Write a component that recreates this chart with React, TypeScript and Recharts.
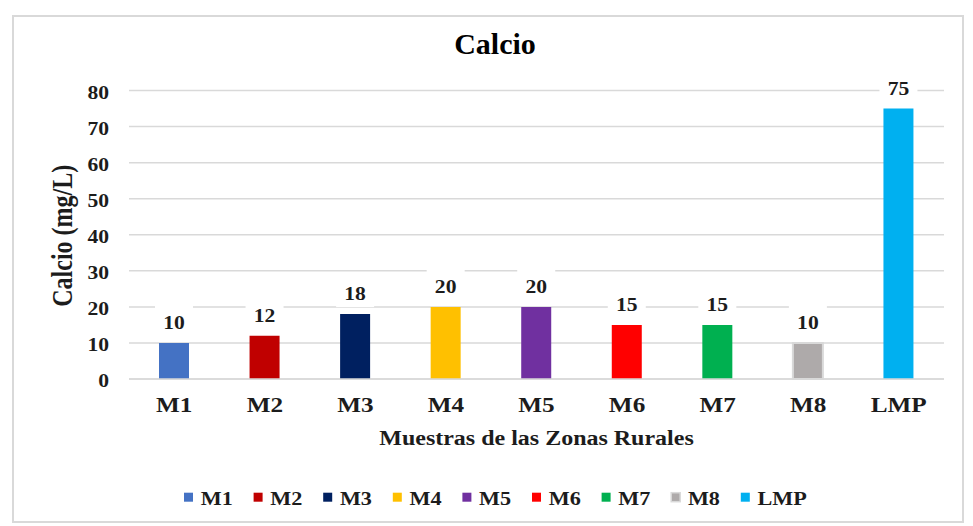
import React from 'react';
import { BarChart, Bar, XAxis, YAxis, CartesianGrid, Cell, LabelList } from 'recharts';

const categories = ['M1', 'M2', 'M3', 'M4', 'M5', 'M6', 'M7', 'M8', 'LMP'];
const calcioValues = [10, 12, 18, 20, 20, 15, 15, 10, 75];
const yTicks = [0, 10, 20, 30, 40, 50, 60, 70, 80];
const chartTitle = 'Calcio';
const yAxisTitle = 'Calcio (mg/L)';
const xAxisTitle = 'Muestras de las Zonas Rurales';

const barColors = ['#4472C4', '#C00000', '#002060', '#FFC000', '#7030A0', '#FF0000', '#00B050', '#AEAAAA', '#00B0F0'];
const barStrokes = ['none', 'none', 'none', 'none', 'none', 'none', 'none', '#D9D9D9', 'none'];

const data = categories.map((name, i) => ({ name, value: calcioValues[i] }));

const FONT = "'Liberation Serif', 'Times New Roman', serif";
const TEXT = '#1c1c1c';
const GRID = '#d9d9d9';
const SX = 1.2;

const YTick = (props: any) => {
  const { x, y, payload } = props;
  return (
    <g transform={`translate(${x},${y + 8}) scale(${SX},1)`}>
      <text x={0} y={0} textAnchor="end" fontFamily={FONT} fontWeight="bold" fontSize={18} fill={TEXT}>
        {payload.value}
      </text>
    </g>
  );
};

const XTick = (props: any) => {
  const { x, y, payload } = props;
  return (
    <g transform={`translate(${x},${y + 32.5}) scale(${SX},1)`}>
      <text x={0} y={0} textAnchor="middle" fontFamily={FONT} fontWeight="bold" fontSize={21} fill={TEXT}>
        {payload.value}
      </text>
    </g>
  );
};

const YTitle = (props: any) => {
  const vb = props.viewBox || { x: 0, y: 0, width: 0, height: 0 };
  const cy = vb.y + vb.height / 2 + 1;
  return (
    <g transform={`translate(64,${cy}) scale(${SX},1) rotate(-90)`}>
      <text x={0} y={0} textAnchor="middle" fontFamily={FONT} fontWeight="bold" fontSize={24} fill={TEXT}>
        {yAxisTitle}
      </text>
    </g>
  );
};

const XTitle = (props: any) => {
  const vb = props.viewBox || { x: 0, y: 0, width: 0, height: 0 };
  const cx = vb.x + vb.width / 2;
  return (
    <g transform={`translate(${cx},${vb.y + 66}) scale(${SX},1)`}>
      <text x={0} y={0} textAnchor="middle" fontFamily={FONT} fontWeight="bold" fontSize={20} fill={TEXT}>
        {xAxisTitle}
      </text>
    </g>
  );
};

const ValueLabel = (props: any) => {
  const { x, y, width, value } = props;
  const cx = x + width / 2;
  return (
    <g>
      <rect x={cx - 19} y={y - 37} width={38} height={30} fill="#ffffff" />
      <g transform={`translate(${cx},${y - 14}) scale(${SX},1)`}>
        <text x={0} y={0} textAnchor="middle" fontFamily={FONT} fontWeight="bold" fontSize={18} fill={TEXT}>
          {value}
        </text>
      </g>
    </g>
  );
};

export default function App() {
  return (
    <div style={{ position: 'relative', width: 965, height: 518, background: '#ffffff' }}>
      <svg width={965} height={518} style={{ position: 'absolute', left: 0, top: 0 }}>
        <rect x={5} y={8} width={950} height={506} fill="none" stroke={GRID} strokeWidth={2} />
        <text x={487} y={46} textAnchor="middle" fontFamily={FONT} fontWeight="bold" fontSize={30} fill="#000">
          {chartTitle}
        </text>
        {categories.map((c, i) => {
          const sx = 176 + i * 69.6;
          return (
            <g key={c}>
              <rect
                x={sx}
                y={484.7}
                width={9}
                height={9}
                fill={barColors[i]}
                stroke={barStrokes[i]}
                strokeWidth={barStrokes[i] === 'none' ? 0 : 1.5}
              />
              <g transform={`translate(${sx + 16.7},497) scale(${SX},1)`}>
                <text x={0} y={0} fontFamily={FONT} fontWeight="bold" fontSize={18.5} fill={TEXT}>
                  {c}
                </text>
              </g>
            </g>
          );
        })}
      </svg>
      <div style={{ position: 'absolute', left: 0, top: 0 }}>
        <BarChart width={965} height={518} data={data} margin={{ top: 82.5, right: 29, bottom: 67, left: 1 }}>
          <CartesianGrid vertical={false} stroke={GRID} strokeWidth={1.5} />
          <XAxis
            dataKey="name"
            interval={0}
            tickLine={false}
            axisLine={{ stroke: GRID, strokeWidth: 1.5 }}
            tickSize={0}
            tickMargin={0}
            height={80}
            tick={<XTick />}
            label={{ content: (p: any) => <XTitle {...p} /> }}
          />
          <YAxis
            domain={[0, 80]}
            ticks={yTicks}
            interval={0}
            axisLine={false}
            tickLine={false}
            tickSize={0}
            tickMargin={20}
            width={120}
            tick={<YTick />}
            label={{ content: (p: any) => <YTitle {...p} /> }}
          />
          <Bar dataKey="value" barSize={30} isAnimationActive={false}>
            {data.map((d, i) => (
              <Cell
                key={d.name}
                fill={barColors[i]}
                stroke={barStrokes[i]}
                strokeWidth={barStrokes[i] === 'none' ? 0 : 2}
              />
            ))}
            <LabelList dataKey="value" content={(p: any) => <ValueLabel {...p} />} />
          </Bar>
        </BarChart>
      </div>
    </div>
  );
}
